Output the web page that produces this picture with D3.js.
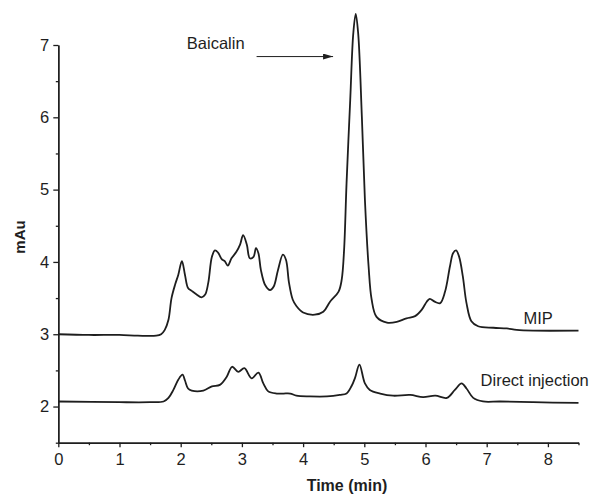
<!DOCTYPE html>
<html><head><meta charset="utf-8">
<script src="https://cdn.jsdelivr.net/npm/d3@7"></script>
<style>
body{margin:0;background:#fff;}
svg{display:block;font-family:"Liberation Sans",Arial,sans-serif;}
</style></head>
<body>
<svg id="c" width="592" height="494"></svg>
<script>
// ---- data ----
const mipTime = [0,0.5,1.0,1.3,1.6,1.68,1.74,1.80,1.85,1.91,1.96,2.02,2.07,2.12,2.18,2.26,2.34,2.40,2.45,2.51,2.56,2.61,2.67,2.72,2.77,2.83,2.91,2.97,3.02,3.08,3.13,3.19,3.23,3.27,3.31,3.38,3.46,3.52,3.59,3.67,3.72,3.77,3.83,3.89,4.00,4.19,4.33,4.44,4.58,4.63,4.67,4.71,4.77,4.82,4.86,4.90,4.96,5.01,5.07,5.12,5.20,5.37,5.53,5.69,5.83,5.94,6.02,6.07,6.15,6.24,6.32,6.40,6.45,6.50,6.55,6.61,6.67,6.75,6.86,7.11,7.33,7.49,7.76,8.5];
const mipValue = [3.00,2.99,2.99,2.98,2.98,3.00,3.06,3.20,3.50,3.69,3.82,4.01,3.82,3.64,3.60,3.55,3.51,3.55,3.71,4.07,4.16,4.13,4.04,4.01,3.95,4.05,4.14,4.24,4.37,4.24,4.05,4.07,4.19,4.12,3.89,3.68,3.61,3.66,3.89,4.10,4.03,3.71,3.48,3.39,3.30,3.27,3.31,3.45,3.59,3.75,4.17,5.09,6.24,7.16,7.43,7.16,6.01,4.86,3.94,3.48,3.24,3.16,3.17,3.22,3.25,3.34,3.45,3.49,3.45,3.43,3.59,3.94,4.12,4.16,4.07,3.80,3.43,3.18,3.11,3.09,3.08,3.06,3.05,3.05];
const directTime = [0,1.0,1.5,1.72,1.80,1.88,1.96,2.03,2.07,2.12,2.18,2.37,2.51,2.64,2.75,2.84,2.94,3.04,3.16,3.27,3.35,3.43,3.57,3.68,3.79,3.89,4.11,4.39,4.60,4.71,4.79,4.85,4.92,5.01,5.09,5.26,5.47,5.75,5.96,6.16,6.35,6.48,6.59,6.67,6.78,6.94,7.22,7.76,8.5];
const directValue = [2.07,2.06,2.06,2.07,2.12,2.23,2.37,2.44,2.36,2.25,2.22,2.22,2.28,2.30,2.41,2.55,2.48,2.53,2.39,2.47,2.32,2.21,2.18,2.18,2.18,2.15,2.14,2.14,2.16,2.18,2.28,2.40,2.58,2.32,2.23,2.18,2.15,2.16,2.13,2.15,2.12,2.23,2.32,2.25,2.12,2.07,2.07,2.06,2.05];
const xMajor = [0,1,2,3,4,5,6,7,8];
const xMinor = [0.5,1.5,2.5,3.5,4.5,5.5,6.5,7.5,8.5];
const yMajor = [2,3,4,5,6,7];
const yMinor = [1.5,2.5,3.5,4.5,5.5,6.5];
const seriesLabels = ["MIP","Direct injection"];
const annotation = "Baicalin";

// ---- chart ----
const svg = d3.select("#c");
const x = d3.scaleLinear().domain([0,8.5]).range([58.3,578.5]);
const y = d3.scaleLinear().domain([1.5,7]).range([442.7,45]);
const ink = "#1e1e1e";

function styleAxis(g){
  g.selectAll("path.domain").attr("stroke",ink).attr("stroke-width",1.4);
  g.selectAll(".tick line").attr("stroke",ink).attr("stroke-width",1.3);
  g.selectAll(".tick text").attr("fill",ink).attr("font-size",16.5)
   .attr("font-family","'Liberation Sans',Arial,sans-serif");
}

// x minor + major
const gxm = svg.append("g").attr("transform",`translate(0,${y(1.5)})`)
  .call(d3.axisBottom(x).tickValues(xMinor).tickSize(2.5).tickSizeOuter(0).tickFormat(""));
styleAxis(gxm);
const gx = svg.append("g").attr("transform",`translate(0,${y(1.5)})`)
  .call(d3.axisBottom(x).tickValues(xMajor).tickSize(4.5).tickSizeOuter(0).tickPadding(6).tickFormat(d3.format("d")));
styleAxis(gx);

const gym = svg.append("g").attr("transform",`translate(${x(0)},0)`)
  .call(d3.axisLeft(y).tickValues(yMinor).tickSize(2.5).tickSizeOuter(0).tickFormat(""));
styleAxis(gym);
const gy = svg.append("g").attr("transform",`translate(${x(0)},0)`)
  .call(d3.axisLeft(y).tickValues(yMajor).tickSize(5).tickSizeOuter(0).tickPadding(4).tickFormat(d3.format("d")));
styleAxis(gy);

// lines
const line = d3.line().x(d=>x(d[0])).y(d=>y(d[1])).curve(d3.curveCatmullRom.alpha(0.5));
const mip = mipTime.map((t,i)=>[t,mipValue[i]]);
const dir = directTime.map((t,i)=>[t,directValue[i]]);
[mip,dir].forEach(s=>{
  svg.append("path").datum(s).attr("d",line).attr("fill","none")
    .attr("stroke",ink).attr("stroke-width",1.8).attr("stroke-linejoin","round");
});

// labels
svg.append("text").attr("x",x(7.6)).attr("y",y(3.14)).attr("font-size",16.5).attr("fill",ink).text(seriesLabels[0]);
svg.append("text").attr("x",x(6.9)).attr("y",y(2.29)).attr("font-size",16.5).attr("fill",ink).text(seriesLabels[1]);

// annotation
svg.append("defs").append("marker").attr("id","arr").attr("viewBox","0 0 10 6")
  .attr("refX",10).attr("refY",3).attr("markerWidth",10).attr("markerHeight",6)
  .attr("markerUnits","userSpaceOnUse").attr("orient","auto")
  .append("path").attr("d","M0,0L10,3L0,6Z").attr("fill",ink);
svg.append("text").attr("x",x(2.1)).attr("y",y(6.95)).attr("font-size",16.5).attr("fill",ink).text(annotation);
svg.append("line").attr("x1",x(3.24)).attr("x2",x(4.49)).attr("y1",y(6.84)).attr("y2",y(6.84))
  .attr("stroke",ink).attr("stroke-width",1).attr("marker-end","url(#arr)");

// axis titles
svg.append("text").attr("x",347).attr("y",491).attr("text-anchor","middle")
  .attr("font-size",16).attr("font-weight","bold").attr("fill",ink).text("Time (min)");
svg.append("text").attr("transform","translate(25,237) rotate(-90)").attr("text-anchor","middle")
  .attr("font-size",15).attr("font-weight","bold").attr("fill",ink).text("mAu");
</script>
</body></html>
